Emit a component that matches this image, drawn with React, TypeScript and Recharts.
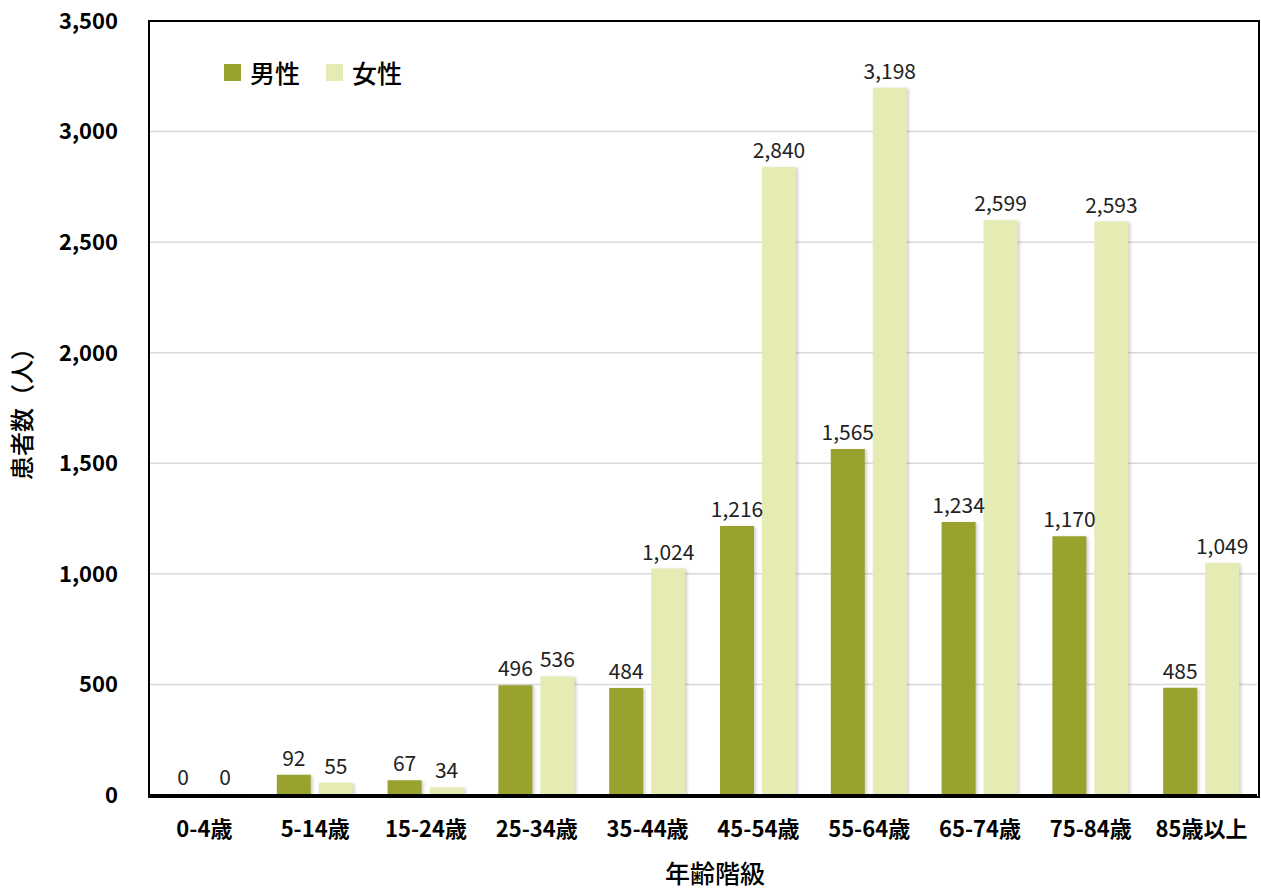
import { Bar, BarChart, CartesianGrid, LabelList, XAxis, YAxis } from 'recharts';

const ageGroups = ['0-4歳', '5-14歳', '15-24歳', '25-34歳', '35-44歳', '45-54歳', '55-64歳', '65-74歳', '75-84歳', '85歳以上'];
const maleCounts = [0, 92, 67, 496, 484, 1216, 1565, 1234, 1170, 485];
const femaleCounts = [0, 55, 34, 536, 1024, 2840, 3198, 2599, 2593, 1049];
const yTicks = [0, 500, 1000, 1500, 2000, 2500, 3000, 3500];

const MALE = '#98a22c';
const FEMALE = '#e5ebb2';
const FONT = '"Noto Sans CJK JP", "Noto Sans", sans-serif';

const data = ageGroups.map((name, i) => ({ name, male: maleCounts[i], female: femaleCounts[i] }));

const fmt = (v: number) => v.toLocaleString('en-US');

// plot box in page pixels
const PLOT = { left: 149, top: 21, right: 1257, bottom: 795 };

function LegendBox() {
  const items = [
    { label: '男性', color: MALE },
    { label: '女性', color: FEMALE },
  ];
  return (
    <div style={{ position: 'absolute', left: 224, top: 54, display: 'flex', alignItems: 'center', fontFamily: FONT, fontSize: 25, fontWeight: 500, color: '#000' }}>
      {items.map((it) => (
        <div key={it.label} style={{ display: 'flex', alignItems: 'center', marginRight: 26 }}>
          <span style={{ width: 17, height: 17, background: it.color, marginRight: 9, display: 'inline-block' }} />
          <span>{it.label}</span>
        </div>
      ))}
    </div>
  );
}

export default function App() {
  return (
    <div style={{ position: 'absolute', left: 0, top: 0, width: 1261, height: 889, background: '#fff', fontFamily: FONT }}>
      <style>{`.recharts-bar-rectangle path { filter: drop-shadow(2px 1px 1.5px rgba(0,0,0,0.18)); }`}</style>
      <BarChart
        width={1261}
        height={889}
        data={data}
        margin={{ top: PLOT.top, right: 1261 - PLOT.right, bottom: 0, left: 0 }}
        barSize={34}
        barGap={8}
      >
        <CartesianGrid vertical={false} stroke="#d9d9d9" strokeWidth={1.5} />
        <XAxis
          dataKey="name"
          height={889 - PLOT.bottom}
          tickLine={false}
          tickSize={0}
          tickMargin={26}
          axisLine={{ stroke: '#000', strokeWidth: 2 }}
          tick={{ fill: '#000', fontSize: 22, fontWeight: 700, fontFamily: FONT }}
          interval={0}
          label={{ value: '年齢階級', position: 'insideBottom', offset: 6, dx: 12, fill: '#000', fontSize: 25, fontWeight: 500, fontFamily: FONT }}
        />
        <YAxis
          width={PLOT.left}
          domain={[0, 3500]}
          ticks={yTicks}
          tickFormatter={fmt}
          tickLine={false}
          tickSize={0}
          tickMargin={31}
          axisLine={{ stroke: '#000', strokeWidth: 2 }}
          tick={{ fill: '#000', fontSize: 22, fontWeight: 700, fontFamily: FONT }}
          label={{ value: '患者数（人）', angle: -90, position: 'insideLeft', offset: 22, fill: '#000', fontSize: 24, fontWeight: 500, fontFamily: FONT, style: { textAnchor: 'middle' } }}
        />
        <Bar dataKey="male" name="男性" fill={MALE} minPointSize={1} isAnimationActive={false}>
          <LabelList dataKey="male" position="top" offset={9} formatter={(v: any) => fmt(Number(v))} style={{ fill: '#222', fontSize: 21, fontFamily: FONT }} />
        </Bar>
        <Bar dataKey="female" name="女性" fill={FEMALE} minPointSize={1} isAnimationActive={false}>
          <LabelList dataKey="female" position="top" offset={9} formatter={(v: any) => fmt(Number(v))} style={{ fill: '#222', fontSize: 21, fontFamily: FONT }} />
        </Bar>
      </BarChart>
      <LegendBox />
      {/* black frame around the plot area */}
      <div
        style={{
          position: 'absolute',
          left: PLOT.left - 1,
          top: PLOT.top - 1,
          width: PLOT.right - PLOT.left,
          height: PLOT.bottom - PLOT.top,
          border: '2px solid #000',
          pointerEvents: 'none',
        }}
      />
    </div>
  );
}
